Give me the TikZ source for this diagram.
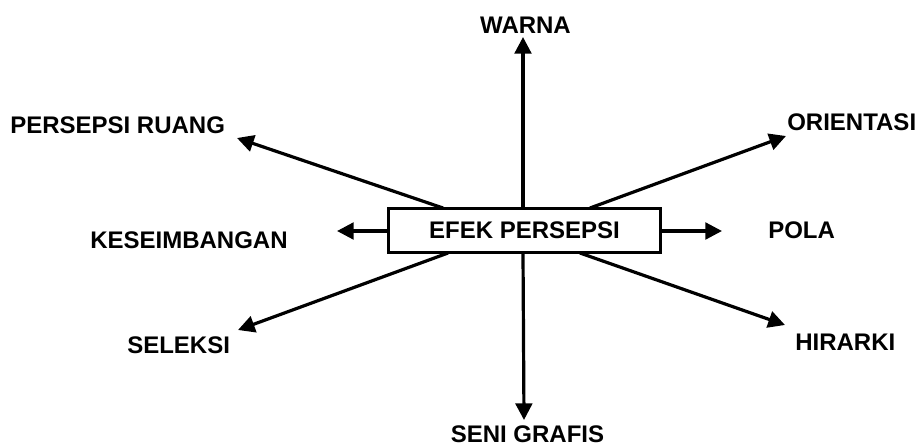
\documentclass[tikz,border=0pt]{standalone}
\usepackage{fontspec}
\setmainfont{Liberation Sans}
\usetikzlibrary{arrows.meta}
\begin{document}
\begin{tikzpicture}[x=0.75pt,y=-0.75pt,
  lbl/.style={inner sep=0pt,font=\fontsize{18}{20}\selectfont\bfseries},
  mainbox/.style={draw,line width=2.5pt,minimum width=204pt,minimum height=33pt,inner sep=0pt,font=\fontsize{18}{20}\selectfont\bfseries},
  conn/.style={line width=2.4pt,-{Triangle[length=12.5pt,width=12.5pt]}}]
\useasboundingbox (0,0) rectangle (918,447);
\node[mainbox] (box) at (524.5,230.5) {EFEK PERSEPSI};
% labels
\node[lbl,anchor=base] (warna) at (525.5,33) {WARNA};
\node[lbl,anchor=base] (seni) at (527.5,442) {SENI GRAFIS};
\node[lbl,anchor=base west] (ruang) at (10,133) {PERSEPSI RUANG};
\node[lbl,anchor=base west] (kes) at (90,248) {KESEIMBANGAN};
\node[lbl,anchor=base west] (sel) at (127,353) {SELEKSI};
\node[lbl,anchor=base west] (ori) at (787,130) {ORIENTASI};
\node[lbl,anchor=base west] (pola) at (768,238) {POLA};
\node[lbl,anchor=base west] (hir) at (795,350) {HIRARKI};
% tail and tip coordinates
\coordinate (tw) at (523,208);   \coordinate (hw) at (523,37);
\coordinate (ts) at (523,253);   \coordinate (hs) at (524,420);
\coordinate (tr) at (443,208);   \coordinate (hr) at (237,138);
\coordinate (tk) at (388,231);   \coordinate (hk) at (337,231);
\coordinate (tl) at (448,253);   \coordinate (hl) at (238,330);
\coordinate (to) at (590,208);   \coordinate (ho) at (786,136);
\coordinate (tp) at (661,231);   \coordinate (hp) at (722,231);
\coordinate (th) at (580,253);   \coordinate (hh) at (785,325);
\draw[conn] (tw) -- (hw);
\draw[conn] (ts) -- (hs);
\draw[conn] (tr) -- (hr);
\draw[conn] (tk) -- (hk);
\draw[conn] (tl) -- (hl);
\draw[conn] (to) -- (ho);
\draw[conn] (tp) -- (hp);
\draw[conn] (th) -- (hh);
\end{tikzpicture}
\end{document}
